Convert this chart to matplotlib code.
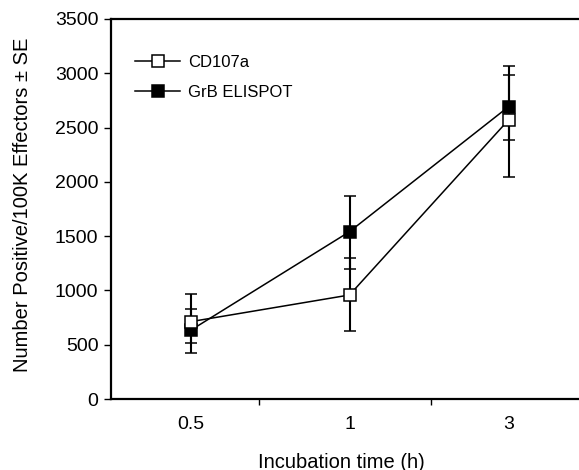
import matplotlib
matplotlib.use("Agg")
import matplotlib.pyplot as plt
from matplotlib.lines import Line2D

# Data
categories = ["0.5", "1", "3"]
cd107a = [712, 958, 2570]
cd107a_err_low = [196, 332, 522]
cd107a_err_high = [257, 344, 497]
grb = [632, 1541, 2692]
grb_err_low = [208, 347, 306]
grb_err_high = [197, 329, 295]
yticks = [0, 500, 1000, 1500, 2000, 2500, 3000, 3500]

plt.rcParams['font.family'] = ['Liberation Sans', 'DejaVu Sans']
plt.rcParams['font.size'] = 14

W, H = 579, 470
fig = plt.figure(figsize=(W / 100, H / 100), dpi=100)
ppu = 159.0  # pixels per category unit
x0 = -0.5
x1 = 2.58
ax = fig.add_axes([111 / W, (H - 399) / H, (x1 - x0) * ppu / W, (399 - 19) / H])

pos = list(range(len(categories)))

common = dict(color='black', lw=1.1, ms=8.6, mew=1.1, elinewidth=1.5,
              capsize=4.2, capthick=1.5, ecolor='black', clip_on=False)
ax.errorbar(pos, grb, yerr=[grb_err_low, grb_err_high], marker='s',
            mfc='black', mec='black', zorder=3, **common)
ax.errorbar(pos, cd107a, yerr=[cd107a_err_low, cd107a_err_high], marker='s',
            mfc='white', mec='black', zorder=4, **common)

ax.set_xlim(x0, x1)
ax.set_ylim(0, 3500)
ax.set_yticks(yticks)
ax.set_yticklabels([str(v) for v in yticks])

# category labels (no major tick marks), minor ticks between categories
ax.set_xticks(pos)
ax.set_xticklabels(categories)
ax.tick_params(axis='x', which='major', length=0, pad=12, labelsize=14)
ax.set_xticks([0.43, 1.51], minor=True)
ax.tick_params(axis='x', which='minor', length=4, width=1, direction='out')
ax.tick_params(axis='y', which='major', length=5, width=1, direction='out',
               pad=4, labelsize=14)

for s in ['left', 'bottom', 'top']:
    ax.spines[s].set_linewidth(1.6)
ax.spines['right'].set_visible(False)

fig.text(23 / W, 1 - 205 / H, 'Number Positive/100K Effectors \u00b1 SE',
         rotation=90, ha='center', va='center', fontsize=14.5)
fig.text(341 / W, 1 - 462 / H, 'Incubation time (h)', ha='center', va='center',
         fontsize=14.5)

handles = [
    Line2D([], [], color='black', lw=1.1, marker='s', ms=8.6, mfc='white', mec='black', mew=1.1),
    Line2D([], [], color='black', lw=1.1, marker='s', ms=8.6, mfc='black', mec='black', mew=1.1),
]
fig.legend(handles, ['CD107a', 'GrB ELISPOT'], loc='upper left',
           bbox_to_anchor=(135 / W, 1 - 55 / H), frameon=False,
           borderpad=0, borderaxespad=0, handlelength=2.7, handletextpad=0.5,
           labelspacing=0.9, fontsize=12)

fig.savefig('out.png', dpi=100)
